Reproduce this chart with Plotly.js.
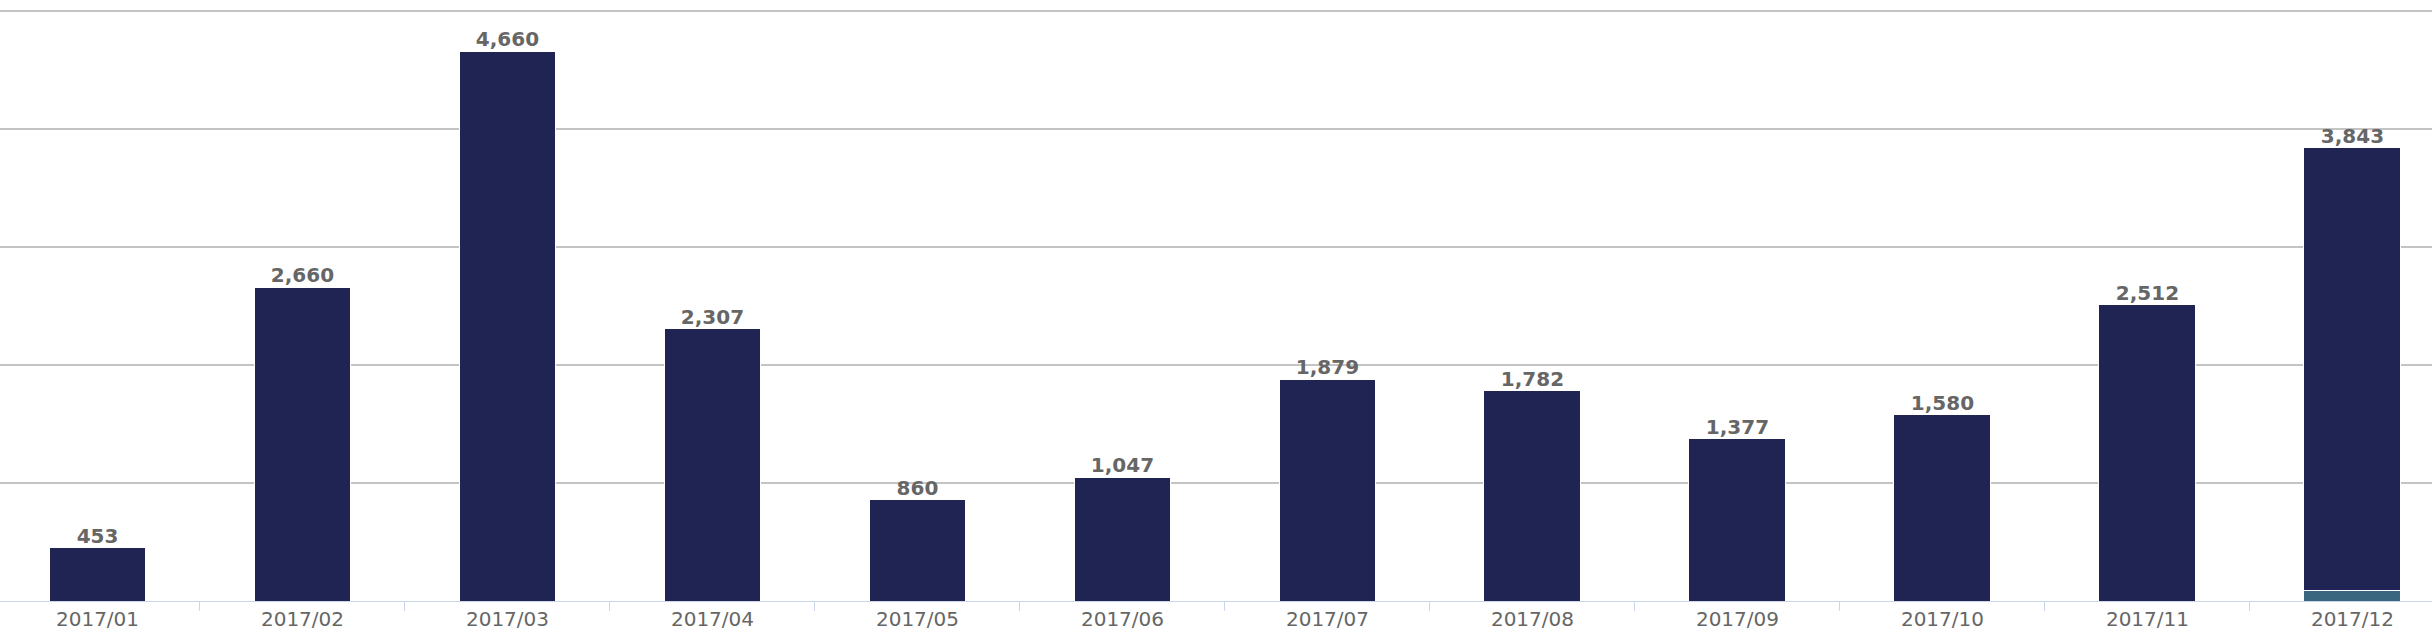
<!DOCTYPE html>
<html>
<head>
<meta charset="utf-8">
<script src="https://cdn.plot.ly/plotly-3.0.1.min.js"></script>
<style>
  html, body { margin: 0; padding: 0; background: #ffffff; }
  #chart { width: 2432px; height: 634px; }
</style>
</head>
<body>
<div id="chart"></div>
<script>
// ---- data ----
const months = ["2017/01","2017/02","2017/03","2017/04","2017/05","2017/06",
                "2017/07","2017/08","2017/09","2017/10","2017/11","2017/12"];
const seriesMain = [453, 2660, 4660, 2307, 860, 1047, 1879, 1782, 1377, 1580, 2512, 3756];
const seriesSub  = [null, null, null, null, null, null, null, null, null, null, null, 87];
const yTicks = [0, 1000, 2000, 3000, 4000, 5000];

// ---- derived totals for the labels above each stack ----
const totals = months.map((m, i) => (seriesMain[i] || 0) + (seriesSub[i] || 0));

const navy = "#202452";
const teal = "#3b6680";

const traces = [
  {
    type: "bar", name: "sub", x: months, y: seriesSub,
    marker: { color: teal, line: { color: "#ffffff", width: 1 } },
    hoverinfo: "skip"
  },
  {
    type: "bar", name: "main", x: months, y: seriesMain,
    marker: { color: navy, line: { color: "#ffffff", width: 1 } },
    hoverinfo: "skip"
  },
  {
    type: "scatter", mode: "text", x: months, y: totals,
    text: totals.map(v => v.toLocaleString("en-US")),
    textposition: "top center",
    textfont: { family: "DejaVu Sans", size: 20, color: "#666666", weight: "bold" },
    cliponaxis: false, hoverinfo: "skip"
  }
];

const layout = {
  width: 2432, height: 634,
  margin: { l: 0, r: 0, t: 10, b: 33, pad: 0 },
  paper_bgcolor: "#ffffff", plot_bgcolor: "#ffffff",
  showlegend: false,
  barmode: "stack",
  bargap: 0.527,
  xaxis: {
    type: "category",
    range: [-0.4756, 11.388],
    showline: true, linecolor: "#ccd6eb", linewidth: 1,
    ticks: "outside", tickson: "boundaries", ticklen: 9, tickwidth: 1, tickcolor: "#ccd6eb",
    showgrid: false, zeroline: false,
    tickfont: { family: "DejaVu Sans", size: 20, color: "#666666" }
  },
  yaxis: {
    range: [0, 5010],
    tickvals: yTicks,
    showticklabels: false,
    showgrid: true, gridcolor: "#c4c4c4", gridwidth: 1.5,
    zeroline: false, showline: false, ticks: ""
  }
};

Plotly.newPlot("chart", traces, layout, { staticPlot: true, displayModeBar: false });
</script>
</body>
</html>
